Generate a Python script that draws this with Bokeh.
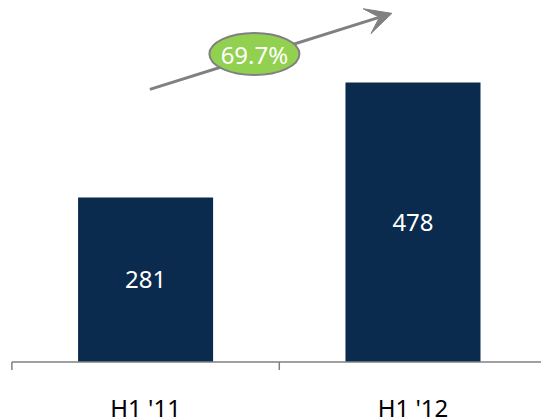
from bokeh.plotting import figure
from bokeh.models import Range1d, ColumnDataSource, Arrow, VeeHead
from bokeh.core.properties import value
from bokeh.embed import file_html
from bokeh.resources import INLINE

# Half-year totals
categories = ["H1 '11", "H1 '12"]
totals = [281, 478]
growth_label = "69.7%"

FONT = "Noto Sans"
NAVY = "#0A2A4E"
GREY = "#808080"
GREEN = "#92D050"

n = len(categories)
x_pos = [i + 0.5 for i in range(n)]
src = ColumnDataSource(dict(
    x=x_pos,
    top=totals,
    mid=[t / 2 for t in totals],
    txt=[str(t) for t in totals],
    cat=categories,
))

# One unit per category on x; y runs below zero to leave room for the category names
p = figure(
    width=541, height=417,
    x_range=Range1d(-0.0426, 1.9806), y_range=Range1d(-94.9, 618),
    x_axis_location=None, y_axis_location=None,
    toolbar_location=None, output_backend="svg",
    min_border=0,
)
p.outline_line_color = None
p.xgrid.visible = False
p.ygrid.visible = False
p.background_fill_color = "white"
p.border_fill_color = "white"

# Bars with their values inside
p.vbar(x="x", top="top", width=0.505, bottom=0, source=src,
       fill_color=NAVY, line_color=None)
p.text(x="x", y="mid", text="txt", source=src,
       text_color="white", text_font=value(FONT), text_font_size="24px",
       text_align="center", text_baseline="middle")

# Category baseline with separator ticks between periods
p.segment(x0=0, y0=0, x1=n, y1=0, line_color=GREY, line_width=1.5)
p.segment(x0=list(range(n + 1)), y0=0, x1=list(range(n + 1)), y1=-13.7,
          line_color=GREY, line_width=1.5)
p.text(x="x", y=-77, text="cat", source=src,
       text_color="black", text_font=value(FONT), text_font_size="24px",
       text_align="center", text_baseline="middle")

# Growth arrow between the two periods
p.add_layout(Arrow(
    x_start=0.516, y_start=466, x_end=1.421, y_end=596,
    line_color=GREY, line_width=3,
    end=VeeHead(size=26, fill_color=GREY, line_color=GREY, line_width=1),
))

# Growth badge on top of the arrow
badge = ColumnDataSource(dict(x=[0.907], y=[526.5], txt=[growth_label]))
e = p.ellipse(x="x", y="y", width=90, height=42, width_units="screen",
              height_units="screen", source=badge,
              fill_color=GREEN, line_color=GREY, line_width=2)
e.level = "overlay"
t = p.text(x="x", y="y", text="txt", source=badge,
           text_color="white", text_font=value(FONT), text_font_size="24px",
           text_align="center", text_baseline="middle")
t.level = "overlay"

open("out.html", "w").write(file_html(p, INLINE))
